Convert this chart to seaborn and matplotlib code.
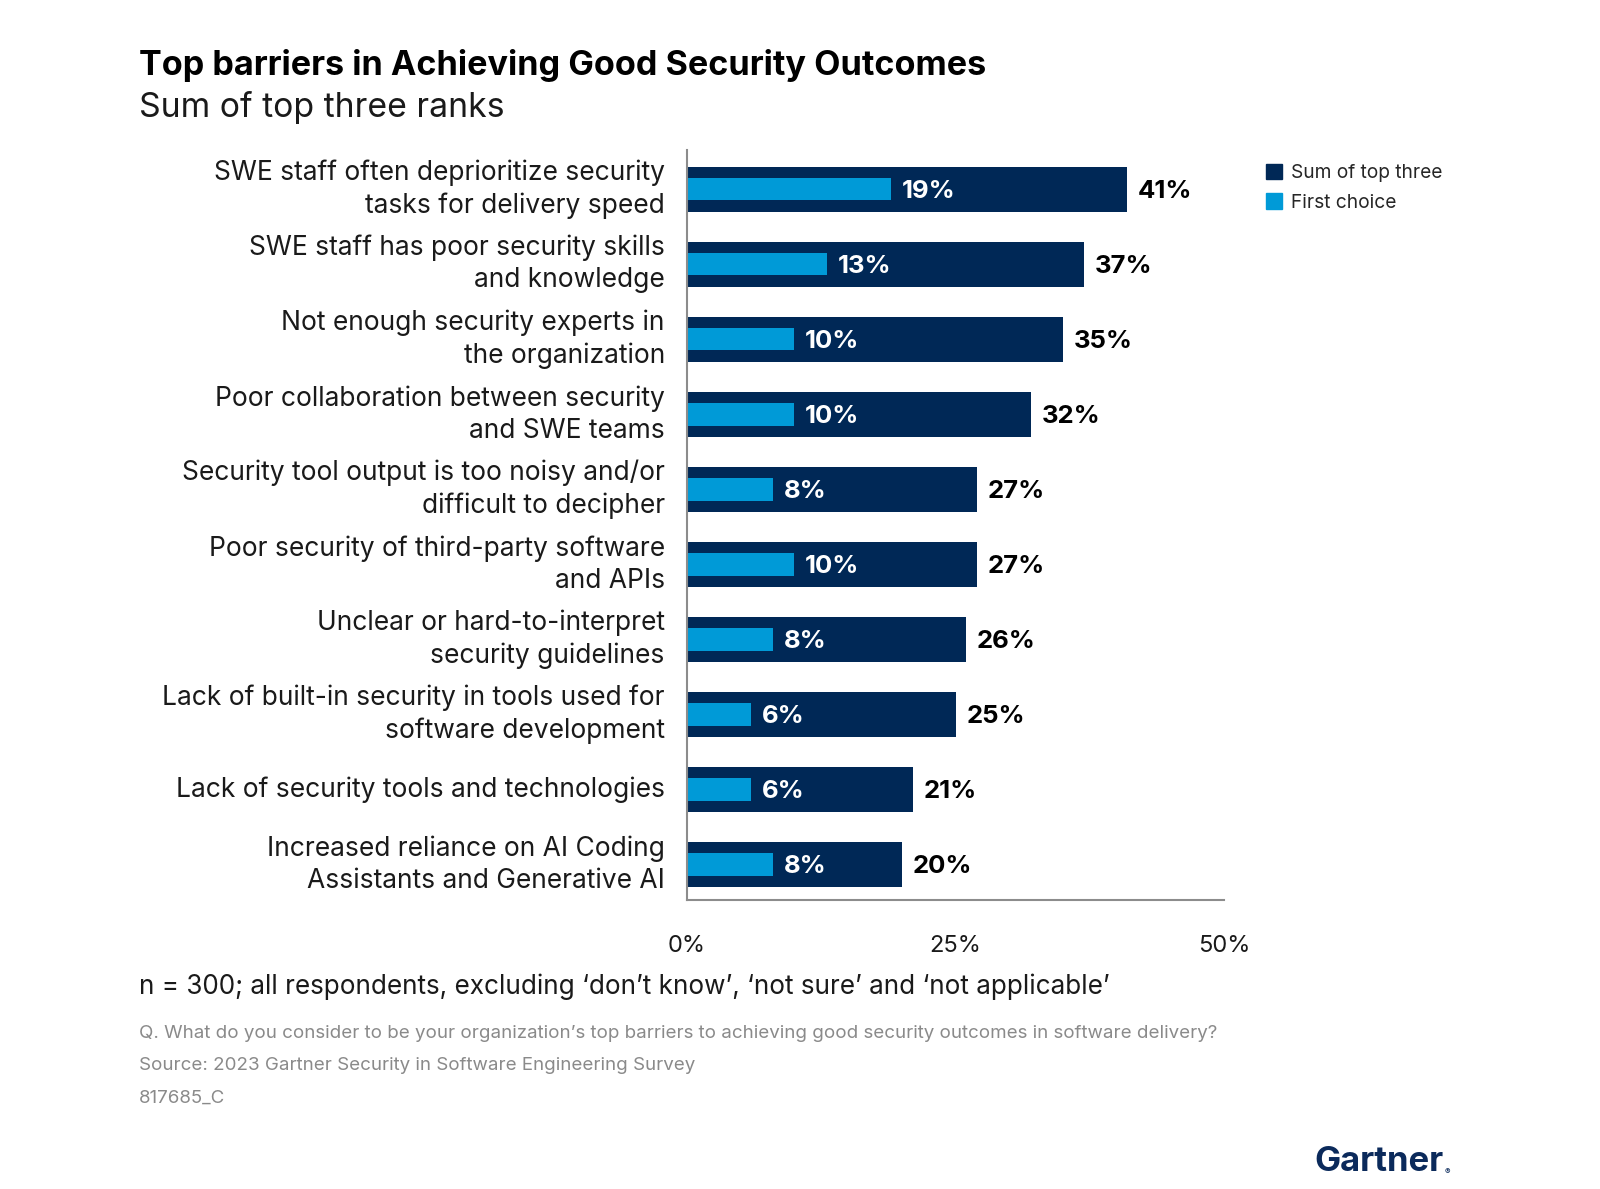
import matplotlib
matplotlib.use("Agg")
import matplotlib.pyplot as plt
import seaborn as sns
import pandas as pd
from matplotlib.patches import Patch

categories = [
    "SWE staff often deprioritize security\ntasks for delivery speed",
    "SWE staff has poor security skills\nand knowledge",
    "Not enough security experts in\nthe organization",
    "Poor collaboration between security\nand SWE teams",
    "Security tool output is too noisy and/or\ndifficult to decipher",
    "Poor security of third-party software\nand APIs",
    "Unclear or hard-to-interpret\nsecurity guidelines",
    "Lack of built-in security in tools used for\nsoftware development",
    "Lack of security tools and technologies",
    "Increased reliance on AI Coding\nAssistants and Generative AI",
]
sum_top_three = [41, 37, 35, 32, 27, 27, 26, 25, 21, 20]
first_choice = [19, 13, 10, 10, 8, 10, 8, 6, 6, 8]
x_ticks = [0, 25, 50]
x_tick_labels = ["0%", "25%", "50%"]

NAVY = "#002856"
BLUE = "#009ad7"
AXIS = "#8c8c8c"
GRAY = "#8a8a8a"

sns.set_theme(style="white")
plt.rcParams["font.family"] = ["Inter", "DejaVu Sans"]

df = pd.DataFrame({"cat": categories, "sum": sum_top_three, "first": first_choice})

fig = plt.figure(figsize=(16, 11.89), dpi=100)
ax = fig.add_axes([687 / 1600, 1 - 900 / 1189, (1224 - 687) / 1600, (900 - 150) / 1189])

sns.barplot(data=df, y="cat", x="sum", orient="h", color=NAVY, width=0.6,
            saturation=1, ax=ax, order=categories, linewidth=0, edgecolor="none")
sns.barplot(data=df, y="cat", x="first", orient="h", color=BLUE, width=0.3,
            saturation=1, ax=ax, order=categories, linewidth=0, edgecolor="none")

for i, (s, f) in enumerate(zip(sum_top_three, first_choice)):
    ax.text(f + 1.0, i + 0.03, f"{f}%", color="white", fontsize=18.5, fontweight="bold",
            va="center", ha="left")
    ax.text(s + 1.0, i + 0.03, f"{s}%", color="black", fontsize=18.5, fontweight="bold",
            va="center", ha="left")

ax.set_xlim(0, 50)
ax.set_ylim(9.47, -0.52)
ax.set_xticks(x_ticks)
ax.set_xticklabels(x_tick_labels, fontsize=17)
ax.tick_params(axis="x", length=0, pad=25, colors="#1a1a1a")
ax.tick_params(axis="y", length=0, pad=16)
ax.set_yticks(range(len(categories)))
ax.set_yticklabels(categories, fontsize=19, color="#1a1a1a", linespacing=1.3)
for lab in ax.get_yticklabels():
    lab.set_verticalalignment("center")
ax.set_xlabel("")
ax.set_ylabel("")
for side in ["top", "right"]:
    ax.spines[side].set_visible(False)
for side in ["left", "bottom"]:
    ax.spines[side].set_color(AXIS)
    ax.spines[side].set_linewidth(1.5)

# Legend
handles = [Patch(color=NAVY, label="Sum of top three"), Patch(color=BLUE, label="First choice")]
fig.legend(handles=handles, loc="upper left", bbox_to_anchor=(1256 / 1600, 1 - 154 / 1189),
           frameon=False, fontsize=13.8, handlelength=0.85, handleheight=0.85,
           handletextpad=0.5, labelspacing=0.6, borderpad=0)

# Titles
fig.text(139 / 1600, 1 - 66 / 1189, "Top barriers in Achieving Good Security Outcomes",
         fontsize=24.6, fontweight="bold", va="center", ha="left", color="black")
fig.text(139 / 1600, 1 - 107 / 1189, "Sum of top three ranks",
         fontsize=24.3, va="center", ha="left", color="#1a1a1a")

# Footnotes
fig.text(139 / 1600, 1 - 987 / 1189,
         "n = 300; all respondents, excluding \u2018don\u2019t know\u2019, \u2018not sure\u2019 and \u2018not applicable\u2019",
         fontsize=18.8, va="center", ha="left", color="#1a1a1a")
fig.text(139 / 1600, 1 - 1034 / 1189,
         "Q. What do you consider to be your organization\u2019s top barriers to achieving good security outcomes in software delivery?",
         fontsize=13.5, va="center", ha="left", color=GRAY)
fig.text(139 / 1600, 1 - 1065 / 1189, "Source: 2023 Gartner Security in Software Engineering Survey",
         fontsize=13.5, va="center", ha="left", color=GRAY)
fig.text(139 / 1600, 1 - 1098 / 1189, "817685_C",
         fontsize=13.5, va="center", ha="left", color=GRAY)

# Logo
fig.text(1444 / 1600, 1 - 1162 / 1189, "Gartner", fontsize=25, fontweight="bold",
         color="#0b2a5b", va="center", ha="right")
fig.text(1445 / 1600, 1 - 1172 / 1189, "\u00ae", fontsize=6,
         color="#0b2a5b", va="center", ha="left")

fig.savefig("out.png", dpi=100)
